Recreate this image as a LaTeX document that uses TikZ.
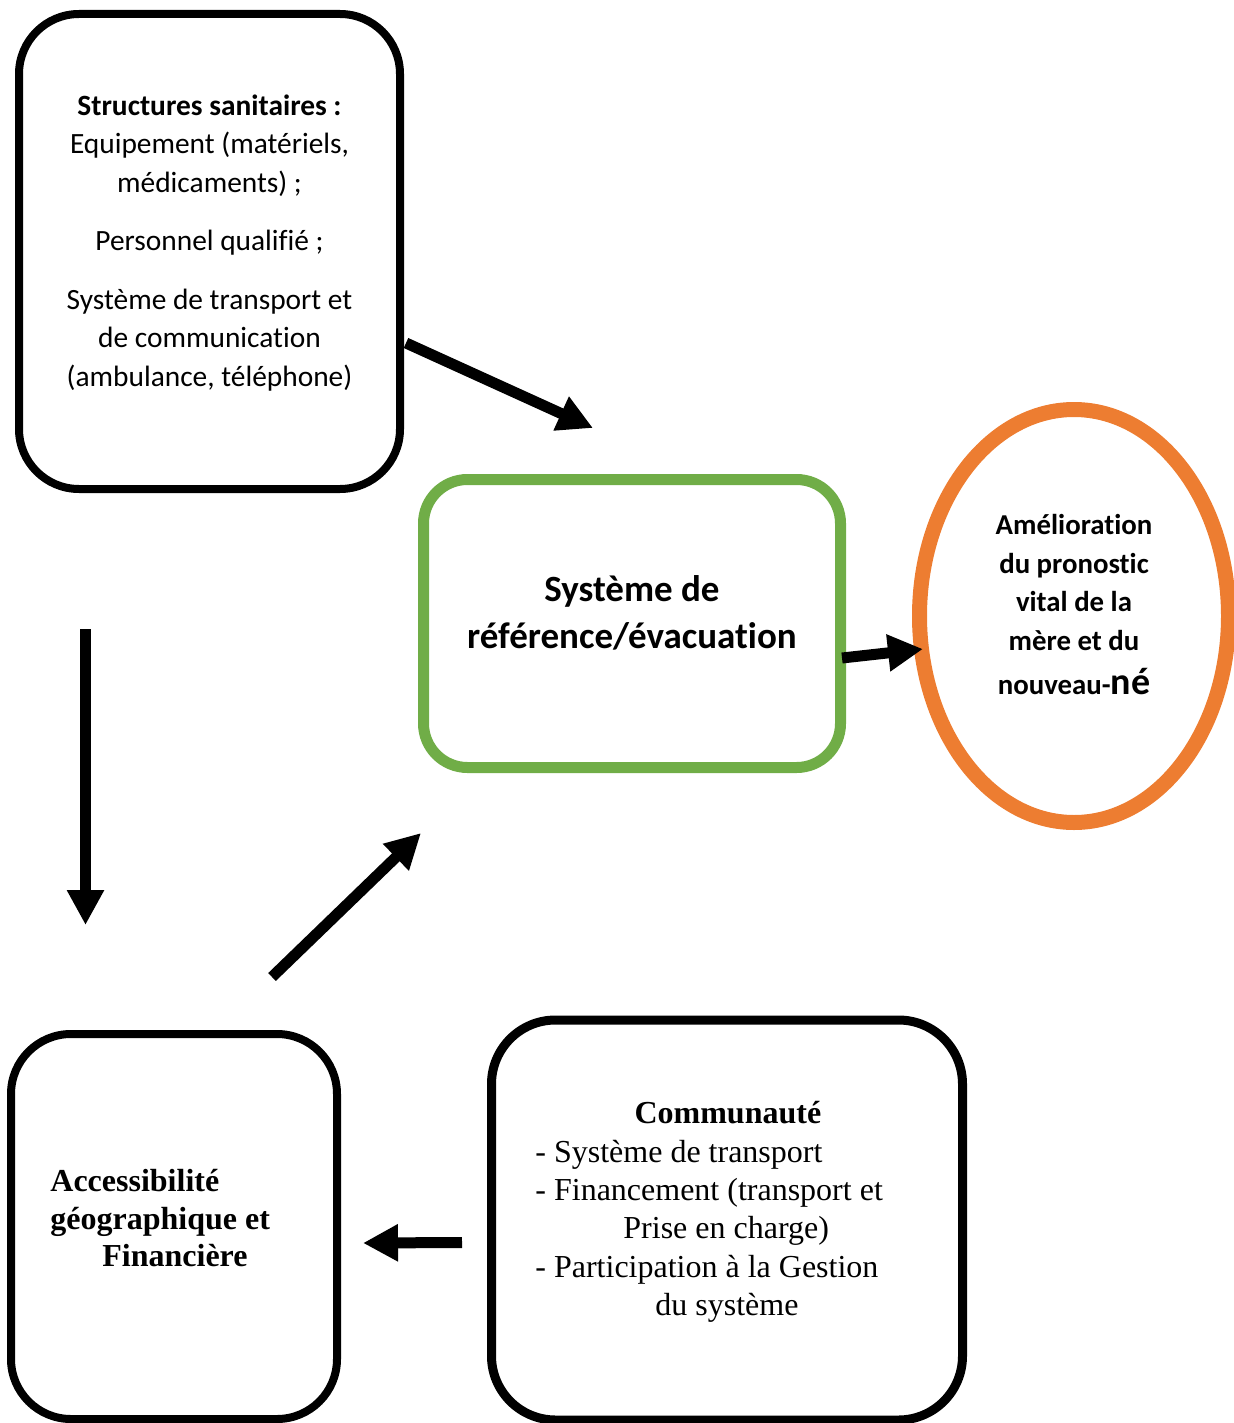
\documentclass[tikz,border=0pt]{standalone}
\usepackage{fontspec}
\setmainfont{Liberation Serif}
\newfontfamily\calibri[Ligatures={NoCommon,NoRare}]{Carlito}
\usepackage{tikz}
\usetikzlibrary{arrows.meta,positioning,shapes.geometric}
\definecolor{vertcadre}{HTML}{70AD47}
\definecolor{orangecadre}{HTML}{ED7D31}

\begin{document}
\begin{tikzpicture}[
  x=0.5pt,y=-0.5pt,
  cadre/.style={draw,rectangle,rounded corners=30pt,line width=4pt,inner sep=0pt},
  fleche/.style={line width=5.5pt,-{Triangle[length=17.5pt,width=17.5pt]}},
  texte/.style={inner sep=0pt}
]
\useasboundingbox (0,0) rectangle (1234,1423);

\node[cadre,minimum width=190.5pt,minimum height=237.5pt] (struct) at (209.5,251.5) {};
\node[cadre,draw=vertcadre,line width=5.5pt,rounded corners=22pt,
      minimum width=208.5pt,minimum height=144pt] (refevac) at (632,623.5) {};
\node[ellipse,draw=orangecadre,line width=7.5pt,inner sep=0pt,
      minimum width=154.5pt,minimum height=206.5pt] (prono) at (1074,616) {};
\node[cadre,minimum width=163pt,minimum height=192.5pt] (acces) at (174,1226.5) {};
\node[cadre,line width=4.5pt,rounded corners=32pt,
      minimum width=235.5pt,minimum height=200pt] (commu) at (727,1220) {};

\node[texte,anchor=north,align=center,font=\calibri\fontsize{14.7}{19.25}\selectfont]
  (structtxt) at (209.5,94)
  {\textbf{Structures sanitaires :}\\ Equipement (matériels,\\ médicaments) ;\\[10pt]
   Personnel qualifié ;\\[10pt] Système de transport et\\ de communication\\
   (ambulance, téléphone)};
\node[texte,anchor=north,align=center,font=\calibri\bfseries\fontsize{18.5}{23.5}\selectfont]
  (refevactxt) at (632,575) {Système de\\ référence/évacuation};
\node[texte,anchor=north,align=center,font=\calibri\bfseries\fontsize{14.4}{19.25}\selectfont]
  (pronotxt) at (1074,514)
  {Amélioration\\ du pronostic\\ vital de la\\ mère et du\\[3pt]
   nouveau-{\fontsize{19}{22}\selectfont né}};
\node[texte,anchor=north west,align=left,font=\bfseries\fontsize{16}{18.75}\selectfont]
  (accestxt) at (50,1169)
  {Accessibilité\\ géographique et\\ \hspace*{26pt}Financière};
\node[texte,anchor=north west,align=left,font=\fontsize{16}{19.2}\selectfont]
  (commutxt) at (535,1101)
  {\makebox[192.5pt][c]{\textbf{Communauté}}\\ - Système de transport\\
   - Financement (transport et\\ \hspace*{44pt}Prise en charge)\\
   - Participation à la Gestion\\ \hspace*{60pt}du système};

\coordinate (a1) at (406,343);
\coordinate (a2) at (593,428);
\coordinate (b1) at (85.5,629);
\coordinate (b2) at (85.5,925);
\coordinate (c1) at (272,977);
\coordinate (c2) at (421,833);
\coordinate (d1) at (842,658);
\coordinate (d2) at (923,649);
\coordinate (e1) at (462,1242.5);
\coordinate (e2) at (363,1243);

\draw[fleche] (a1) -- (a2);
\draw[fleche] (b1) -- (b2);
\draw[fleche] (c1) -- (c2);
\draw[fleche] (d1) -- (d2);
\draw[fleche] (e1) -- (e2);

\end{tikzpicture}
\end{document}
